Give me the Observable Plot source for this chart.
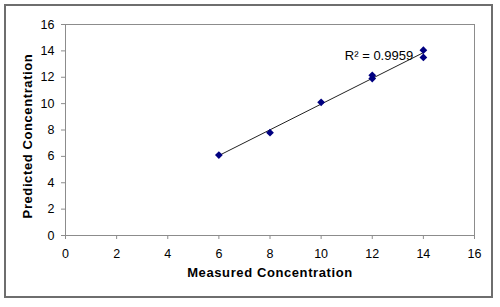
<!DOCTYPE html>
<html>
<head>
<meta charset="utf-8">
<script src="https://cdn.jsdelivr.net/npm/d3@7"></script>
<script src="https://cdn.jsdelivr.net/npm/@observablehq/plot@0.6"></script>
<style>
  html, body { margin: 0; padding: 0; background: #fff; }
  #wrap { position: relative; width: 500px; height: 307px; }
  #border { position: absolute; left: 4px; top: 4px; width: 485px; height: 290px;
            border: 2px solid #6e6e6e; pointer-events: none; }
  svg { display: block; }
  g[font-weight="bold"] text { letter-spacing: 0.6px; }
</style>
</head>
<body>
<div id="wrap"><div id="border"></div></div>
<script>
const measured = [6, 8, 10, 12, 12, 14, 14];
const predicted = [6.1, 7.8, 10.1, 12.15, 11.9, 14.05, 13.5];
const xTicks = [0, 2, 4, 6, 8, 10, 12, 14, 16];
const yTicks = [0, 2, 4, 6, 8, 10, 12, 14, 16];
const xTitle = "Measured Concentration";
const yTitle = "Predicted Concentration";
const r2Label = "R\u00B2 = 0.9959";
const r2Pos = {x: 13.6, y: 13.65};

const data = measured.map((m, i) => ({m, p: predicted[i]}));

const chart = Plot.plot({
  width: 500,
  height: 307,
  marginLeft: 65,
  marginRight: 26,
  marginTop: 24,
  marginBottom: 72,
  style: {fontFamily: "'Liberation Sans', Arial, sans-serif", fontSize: "12px", color: "#000", background: "transparent"},
  x: {domain: [0, 16], ticks: xTicks},
  y: {domain: [0, 16], ticks: yTicks},
  marks: [
    Plot.frame({stroke: "#8c8c8c"}),
    Plot.axisX({ticks: xTicks, tickSize: 4, tickPadding: 10, stroke: "#8c8c8c", label: null, fontSize: 12.5, fill: "#000"}),
    Plot.axisY({ticks: yTicks, tickSize: 4, tickPadding: 7, stroke: "#8c8c8c", label: null, fontSize: 12.5, fill: "#000"}),
    Plot.text([xTitle], {frameAnchor: "bottom", textAnchor: "middle", dy: 41, fontWeight: "bold", fontSize: 13, fill: "#000"}),
    Plot.text([yTitle], {frameAnchor: "left", textAnchor: "middle", rotate: -90, dx: -38, dy: 6, fontWeight: "bold", fontSize: 13, fill: "#000"}),
    Plot.linearRegressionY(data, {x: "m", y: "p", ci: 0, stroke: "#222", strokeWidth: 1}),
    Plot.dot(data, {x: "m", y: "p", symbol: "diamond2", r: 3.5, fill: "#000080", stroke: "none"}),
    Plot.text([r2Label], {x: () => r2Pos.x, y: () => r2Pos.y, textAnchor: "end", fontSize: 13, fill: "#000"})
  ]
});
document.getElementById("wrap").prepend(chart);
</script>
</body>
</html>
